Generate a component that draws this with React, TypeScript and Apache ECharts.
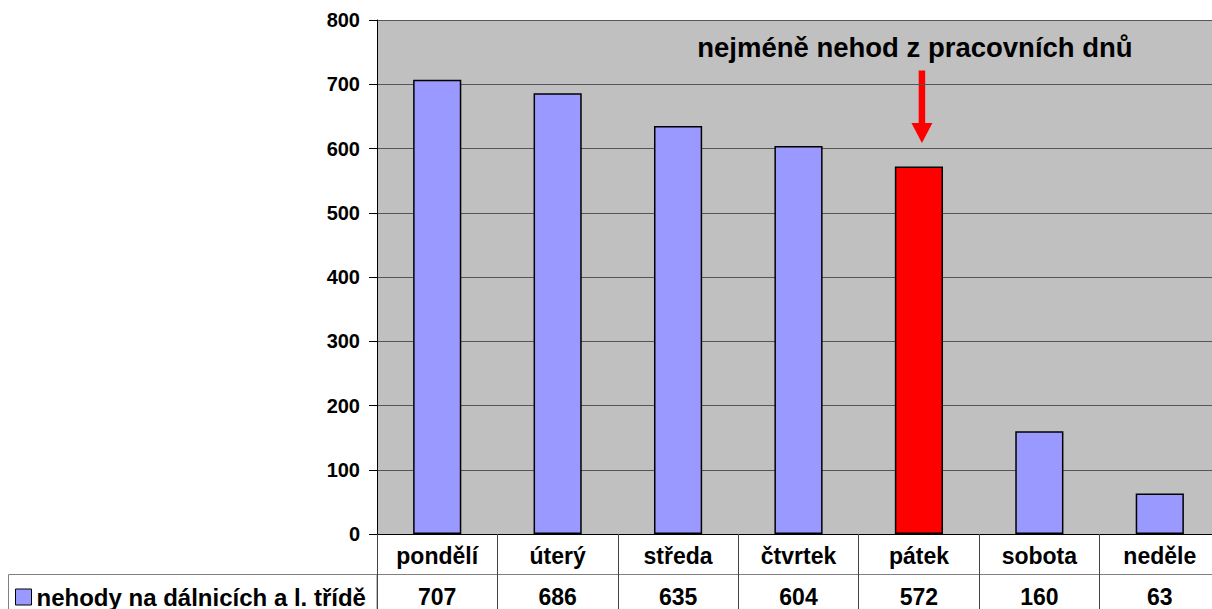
import React, { useEffect, useRef } from "react";
import * as echarts from "echarts";

const categories = ["pondělí", "úterý", "středa", "čtvrtek", "pátek", "sobota", "neděle"];
const values = [707, 686, 635, 604, 572, 160, 63];
const seriesName = "nehody na dálnicích a l. třídě";
const highlightIndex = 4;
const annotationText = "nejméně nehod z pracovních dnů";
const yMin = 0;
const yMax = 800;
const yInterval = 100;

const FONT = "'Liberation Sans', Arial, sans-serif";

export default function App() {
  const ref = useRef<HTMLDivElement>(null);

  useEffect(() => {
    if (!ref.current) return;
    const chart = echarts.init(ref.current, undefined, { renderer: "svg" });

    const option: any = {
      animation: false,
      backgroundColor: "#ffffff",
      textStyle: { fontFamily: FONT },
      grid: {
        left: 377,
        top: 20,
        right: 10,
        bottom: 75,
        show: true,
        backgroundColor: "#C0C0C0",
        borderWidth: 0,
      },
      legend: {
        show: true,
        data: [seriesName],
        left: 15,
        top: 585,
        padding: 0,
        icon: "rect",
        itemWidth: 16,
        itemHeight: 16,
        itemStyle: { borderColor: "#000", borderWidth: 1 },
        textStyle: {
          fontFamily: FONT,
          fontWeight: "bold",
          fontSize: 24,
          color: "#000",
          padding: [0, 0, 0, 0],
        },
        selectedMode: false,
      },
      xAxis: [
        {
          type: "category",
          data: categories,
          position: "bottom",
          boundaryGap: true,
          axisLine: { show: true, lineStyle: { color: "#000", width: 1 } },
          axisTick: {
            show: true,
            alignWithLabel: false,
            inside: false,
            length: 76,
            lineStyle: { color: "#444", width: 1 },
          },
          axisLabel: {
            show: true,
            margin: 10,
            fontFamily: FONT,
            fontWeight: "bold",
            fontSize: 23,
            color: "#000",
            interval: 0,
          },
          splitLine: { show: false },
        },
        {
          type: "category",
          data: categories,
          position: "bottom",
          offset: 40,
          boundaryGap: true,
          axisLine: { show: true, lineStyle: { color: "#808080", width: 1 } },
          axisTick: { show: false },
          axisLabel: {
            show: true,
            margin: 11,
            fontFamily: FONT,
            fontWeight: "bold",
            fontSize: 23,
            color: "#000",
            interval: 0,
            formatter: (_v: string, idx: number) => String(values[idx]),
          },
          splitLine: { show: false },
        },
      ],
      yAxis: {
        type: "value",
        min: yMin,
        max: yMax,
        interval: yInterval,
        axisLine: { show: true, lineStyle: { color: "#000", width: 1 } },
        axisTick: { show: true, inside: false, length: 8, lineStyle: { color: "#000" } },
        axisLabel: {
          margin: 17,
          fontFamily: FONT,
          fontWeight: "bold",
          fontSize: 20,
          color: "#000",
        },
        splitLine: { show: true, lineStyle: { color: "#555", width: 1 } },
      },
      series: [
        {
          name: seriesName,
          type: "bar",
          xAxisIndex: 0,
          barWidth: "40%",
          itemStyle: { color: "#9999FF", borderColor: "#000", borderWidth: 1.5 },
          data: values.map((v, i) =>
            i === highlightIndex
              ? { value: v, itemStyle: { color: "#FF0000", borderColor: "#000", borderWidth: 1.5 } }
              : v
          ),
        },
      ],
      graphic: [
        {
          id: "legendCell",
          type: "rect",
          shape: { x: 8.5, y: 574.5, width: 368.5, height: 60 },
          style: { fill: "none", stroke: "#808080", lineWidth: 1 },
          silent: true,
        },
      ],
    };

    chart.setOption(option);

    const cx = chart.convertToPixel({ xAxisIndex: 0 }, categories[highlightIndex]) as number;
    const ax = cx + 3;
    chart.setOption({
      graphic: [
        {
          id: "annText",
          type: "text",
          x: cx - 4,
          y: 47,
          style: {
            text: annotationText,
            fontFamily: FONT,
            fontWeight: "bold",
            fontSize: 27.5,
            fill: "#000",
            textAlign: "center",
            textVerticalAlign: "middle",
          },
          silent: true,
        },
        {
          id: "arrowShaft",
          type: "rect",
          shape: { x: ax - 3.25, y: 70.5, width: 6.5, height: 54 },
          style: { fill: "#FF0000" },
          silent: true,
        },
        {
          id: "arrowHead",
          type: "polygon",
          shape: {
            points: [
              [ax - 10.5, 123],
              [ax + 10.5, 123],
              [ax, 143],
            ],
          },
          style: { fill: "#FF0000" },
          silent: true,
        },
      ],
    });

    return () => {
      chart.dispose();
    };
  }, []);

  return (
    <div
      style={{
        position: "fixed",
        left: 0,
        top: 0,
        width: 1212,
        height: 609,
        overflow: "hidden",
      }}
    >
      <div ref={ref} style={{ width: 1230, height: 609 }} />
    </div>
  );
}
